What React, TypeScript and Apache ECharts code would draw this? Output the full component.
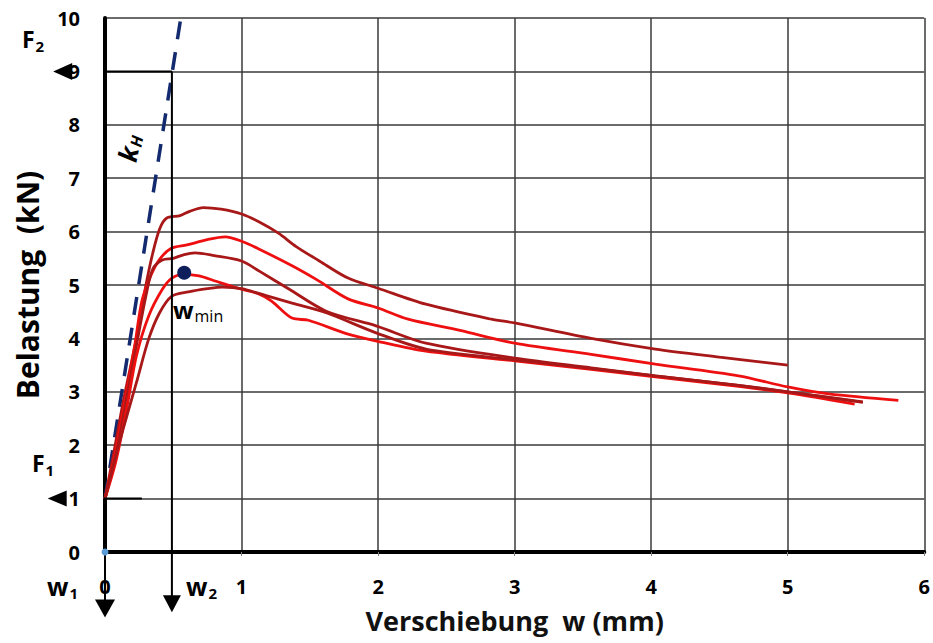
import React, { useEffect, useRef } from "react";
import * as echarts from "echarts";

// ---- data ----
const xTicks = [0, 1, 2, 3, 4, 5, 6];
const yTicks = [0, 1, 2, 3, 4, 5, 6, 7, 8, 9, 10];

const curve1: number[][] = [
  [0, 1], [0.06, 1.8], [0.14, 2.9], [0.23, 4.0], [0.3, 5.0], [0.35, 5.6], [0.4, 6.05], [0.45, 6.25],
  [0.55, 6.3], [0.62, 6.38], [0.72, 6.45], [0.85, 6.42], [1.0, 6.33], [1.13, 6.18], [1.27, 5.97],
  [1.4, 5.72], [1.57, 5.45], [1.78, 5.13], [2.0, 4.94], [2.35, 4.64], [2.83, 4.36], [3.0, 4.29],
  [3.56, 4.0], [4.03, 3.8], [4.5, 3.65], [5.0, 3.5],
];
const curve2: number[][] = [
  [0, 1], [0.07, 1.8], [0.15, 2.9], [0.22, 3.9], [0.27, 4.7], [0.34, 5.2], [0.4, 5.48], [0.48, 5.68],
  [0.6, 5.75], [0.75, 5.85], [0.88, 5.9], [1.0, 5.82], [1.13, 5.67], [1.37, 5.36], [1.55, 5.1],
  [1.78, 4.74], [2.0, 4.57], [2.22, 4.36], [2.6, 4.15], [3.0, 3.91], [3.56, 3.7], [4.03, 3.52],
  [4.64, 3.3], [5.0, 3.09], [5.3, 2.96], [5.81, 2.84],
];
const curve3: number[][] = [
  [0, 1], [0.08, 1.8], [0.16, 2.9], [0.24, 4.0], [0.3, 4.8], [0.35, 5.3], [0.42, 5.47], [0.5, 5.5],
  [0.58, 5.57], [0.66, 5.6], [0.8, 5.55], [1.0, 5.45], [1.13, 5.26], [1.35, 4.92], [1.62, 4.51],
  [1.99, 4.23], [2.35, 3.91], [3.0, 3.63], [3.56, 3.45], [4.03, 3.3], [4.64, 3.12], [5.0, 3.0],
  [5.55, 2.81],
];
const curve4: number[][] = [
  [0, 1], [0.08, 1.7], [0.16, 2.7], [0.23, 3.67], [0.32, 4.42], [0.42, 4.92], [0.49, 5.13],
  [0.58, 5.2], [0.69, 5.17], [0.8, 5.08], [1.0, 4.92], [1.13, 4.83], [1.22, 4.7], [1.37, 4.38],
  [1.49, 4.34], [1.78, 4.08], [1.99, 3.95], [2.35, 3.76], [3.0, 3.58], [3.56, 3.42], [4.03, 3.28],
  [4.64, 3.1], [5.0, 2.98], [5.49, 2.77],
];
const curve5: number[][] = [
  [0, 1], [0.1, 2.0], [0.23, 3.17], [0.32, 3.99], [0.4, 4.48], [0.49, 4.79], [0.61, 4.87],
  [0.75, 4.93], [0.86, 4.96], [1.0, 4.93], [1.18, 4.8], [1.37, 4.66], [1.62, 4.48], [1.99, 4.1],
  [2.35, 3.8], [3.0, 3.6], [3.56, 3.44], [4.03, 3.3], [4.64, 3.12], [5.0, 3.0], [5.55, 2.8],
];

const kHLine: number[][] = [[0, 1], [0.555, 10]];
const wMinPoint: number[] = [0.58, 5.23];
const originPoint: number[] = [0, 0];

const F1 = 1;
const F2 = 9;
const w1 = 0;
const w2 = 0.49;

const DARK = "#a81818";
const BRIGHT = "#ee1010";
const FONT = "Open Sans";

export default function App() {
  const ref = useRef<HTMLDivElement>(null);

  useEffect(() => {
    if (!ref.current) return;
    const chart = echarts.init(ref.current, null, { renderer: "svg" });

    const curveSeries = (data: number[][], color: string) => ({
      type: "line",
      data,
      symbol: "none",
      smooth: 0.3,
      lineStyle: { color, width: 2.8 },
      z: 5,
    });

    const arrowSeries = (from: number[], to: number[], rotate: number, size: number[]) => ({
      type: "line",
      clip: false,
      data: [
        { value: from, symbol: "none" },
        { value: to, symbol: "triangle", symbolRotate: rotate, symbolSize: size },
      ],
      showSymbol: true,
      lineStyle: { color: "#000", width: 2 },
      itemStyle: { color: "#000", opacity: 1 },
      z: 6,
    });

    const subLabel = (text: string, sub: string, left: number, top: number, mainSize: number) => ({
      type: "text",
      left,
      top,
      style: {
        text: `{m|${text}}{s|${sub}}`,
        rich: {
          m: { fontFamily: FONT, fontSize: mainSize, fontWeight: "bold", fill: "#000" },
          s: { fontFamily: FONT, fontSize: 15, fontWeight: "bold", fill: "#000", padding: [14, 0, 0, 1] },
        },
      },
    });

    chart.setOption({
      animation: false,
      backgroundColor: "#fff",
      grid: { left: 105, right: 8, top: 18, bottom: 91 },
      xAxis: [
        {
          type: "value",
          min: xTicks[0],
          max: xTicks[xTicks.length - 1],
          interval: 1,
          name: "Verschiebung  w (mm)",
          nameLocation: "middle",
          nameGap: 55,
          nameTextStyle: { fontFamily: FONT, fontSize: 27, color: "#111", fontWeight: "bold" },
          axisLine: { lineStyle: { color: "#808080", width: 3 } },
          axisTick: { show: true, length: 4, lineStyle: { color: "#808080" } },
          axisLabel: { margin: 24, fontFamily: FONT, fontSize: 20, fontWeight: "bold", color: "#000" },
          splitLine: { lineStyle: { color: "#3a3a3a", width: 1.5 } },
        },
        {
          type: "value",
          position: "top",
          min: xTicks[0],
          max: xTicks[xTicks.length - 1],
          axisLine: { show: true, lineStyle: { color: "#000", width: 4 } },
          axisTick: { show: false },
          axisLabel: { show: false },
          splitLine: { show: false },
        },
      ],
      yAxis: [
        {
          type: "value",
          min: yTicks[0],
          max: yTicks[yTicks.length - 1],
          interval: 1,
          name: "Belastung  (kN)",
          nameLocation: "middle",
          nameGap: 63,
          nameTextStyle: { fontFamily: FONT, fontSize: 30, color: "#000", fontWeight: "bold" },
          axisLine: { show: true, lineStyle: { color: "#808080", width: 3 } },
          axisTick: { show: false },
          axisLabel: { margin: 25, fontFamily: FONT, fontSize: 20, fontWeight: "bold", color: "#000" },
          splitLine: { lineStyle: { color: "#3a3a3a", width: 1.5 } },
        },
        {
          type: "value",
          position: "right",
          min: yTicks[0],
          max: yTicks[yTicks.length - 1],
          axisLine: { show: true, lineStyle: { color: "#000", width: 4 } },
          axisTick: { show: false },
          axisLabel: { show: false },
          splitLine: { show: false },
        },
      ],
      series: [
        {
          type: "line",
          data: kHLine,
          symbol: "none",
          lineStyle: { color: "#142a6e", width: 3.5, type: [18, 13] },
          z: 3,
        },
        curveSeries(curve1, DARK),
        curveSeries(curve2, BRIGHT),
        curveSeries(curve3, DARK),
        curveSeries(curve4, BRIGHT),
        curveSeries(curve5, DARK),
        arrowSeries([w2, F2], [-0.31, F2], 90, [17, 19]),
        arrowSeries([0.27, F1], [-0.35, F1], 90, [16, 19]),
        arrowSeries([w1, 0.78], [w1, -1.06], 180, [20, 18]),
        arrowSeries([w2, F2], [w2, -0.97], 180, [18, 17]),
        {
          type: "scatter",
          clip: false,
          data: [wMinPoint],
          symbolSize: 14,
          itemStyle: { color: "#0e1f5c", opacity: 1 },
          z: 7,
        },
        {
          type: "scatter",
          clip: false,
          data: [originPoint],
          symbolSize: 7,
          itemStyle: { color: "#5b9bd5", opacity: 1 },
          z: 7,
        },
      ],
      graphic: [
        subLabel("F", "2", 22, 27, 23),
        subLabel("F", "1", 32, 451, 23),
        subLabel("w", "1", 47, 573, 25),
        subLabel("w", "2", 186, 573, 25),
        {
          type: "text",
          x: 129,
          y: 148,
          rotation: 1.38,
          style: {
            text: "{m|k}{s|H}",
            align: "center",
            verticalAlign: "middle",
            rich: {
              m: { fontFamily: FONT, fontSize: 26, fontStyle: "italic", fontWeight: "bold", fill: "#000" },
              s: { fontFamily: FONT, fontSize: 16, fontStyle: "italic", fontWeight: "bold", fill: "#000", padding: [12, 0, 0, 1] },
            },
          },
        },
        {
          type: "text",
          left: 173,
          top: 297,
          style: {
            text: "{m|w}{s|min}",
            rich: {
              m: { fontFamily: FONT, fontSize: 24, fontWeight: "bold", fill: "#000" },
              s: { fontFamily: FONT, fontSize: 16, fill: "#000", padding: [14, 0, 0, 1] },
            },
          },
        },
      ],
    });

    return () => chart.dispose();
  }, []);

  return (
    <div
      ref={ref}
      style={{ position: "fixed", left: 0, top: 0, width: 933, height: 643, background: "#fff" }}
    />
  );
}
